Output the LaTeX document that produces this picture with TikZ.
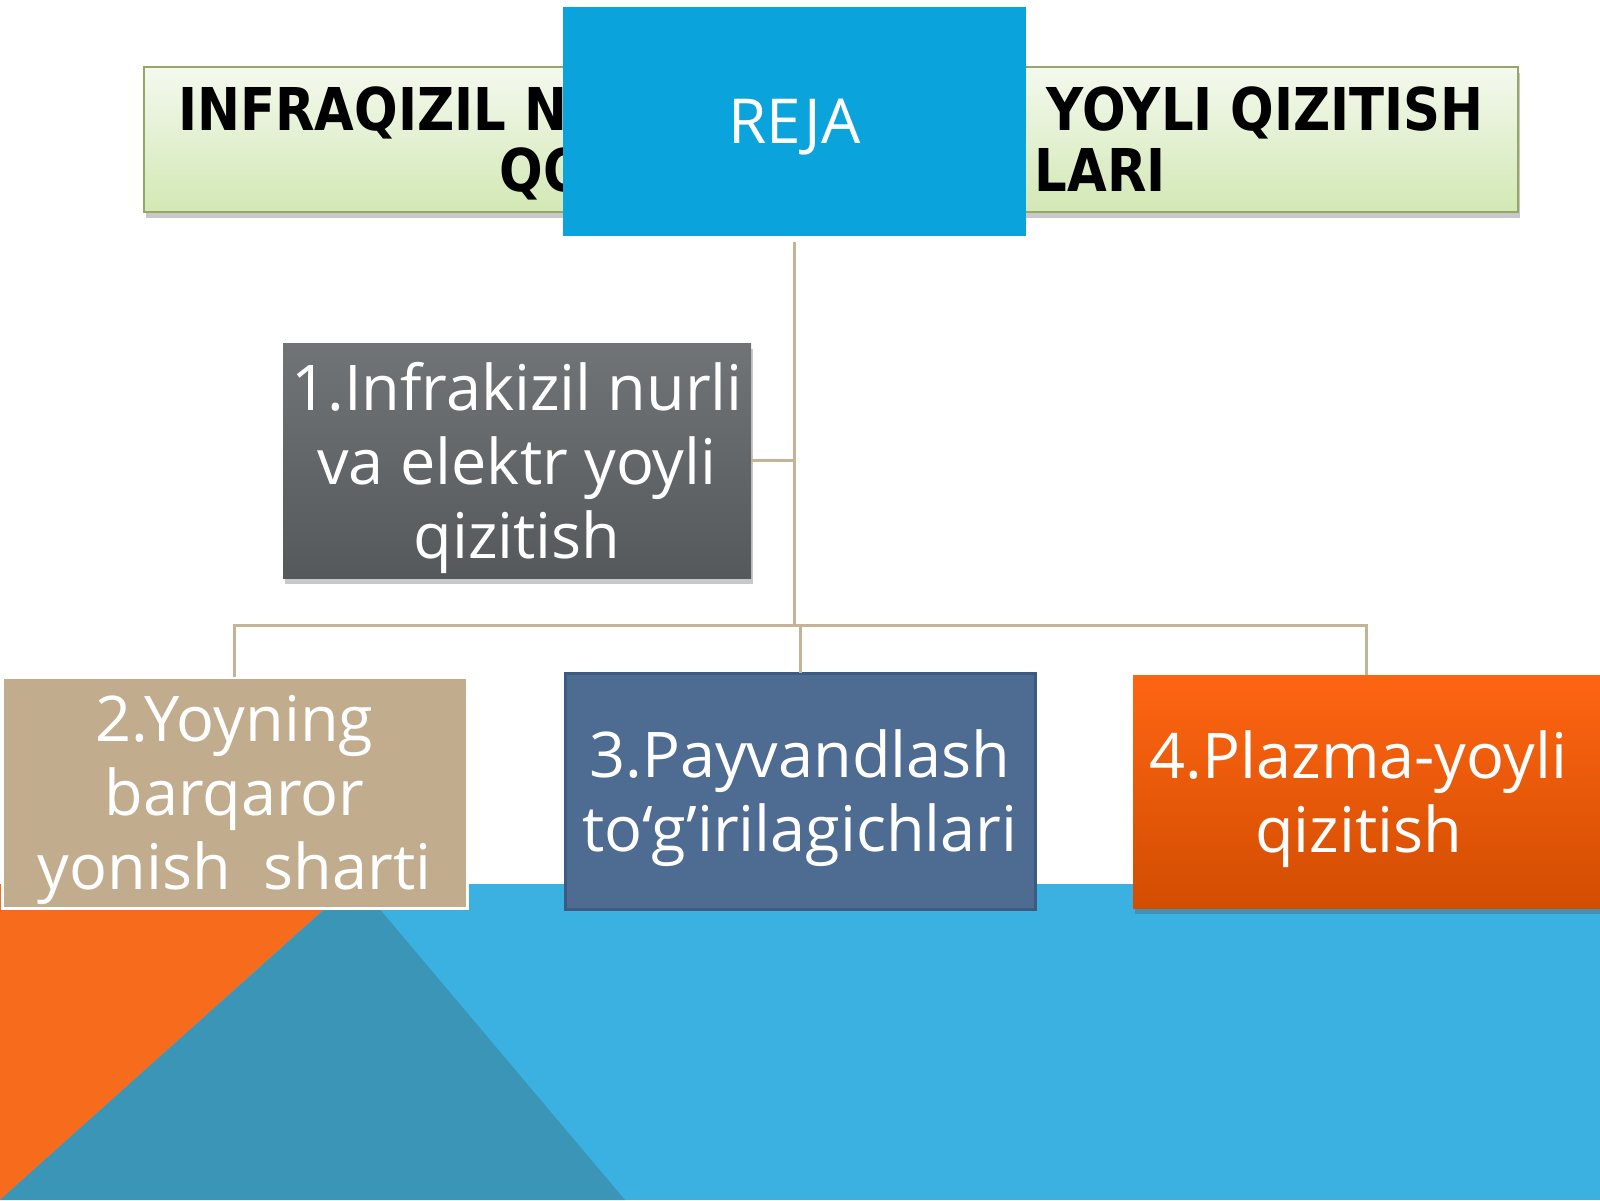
\documentclass[tikz,border=0pt]{standalone}
\usepackage{fontspec}
\setmainfont{Open Sans}
\newfontfamily\titlefont[FakeStretch=0.87]{DejaVu Sans Bold}
\usetikzlibrary{shadows}
\definecolor{rejablue}{HTML}{0BA3DB}
\definecolor{linktan}{HTML}{C4B496}
\definecolor{skyblue}{HTML}{3BB1E1}
\definecolor{tealblue}{HTML}{3A95B7}
\definecolor{flameorange}{HTML}{F76B1C}
\definecolor{sandbox}{HTML}{C1AD8E}
\definecolor{steelbox}{HTML}{4E6B92}
\definecolor{steeledge}{HTML}{3D5A80}
\definecolor{greytop}{HTML}{717477}
\definecolor{greybottom}{HTML}{56595C}
\definecolor{orangetop}{HTML}{FE6512}
\definecolor{orangebottom}{HTML}{D24D02}
\definecolor{limetop}{HTML}{F4F9EE}
\definecolor{limebottom}{HTML}{D3E8B5}
\definecolor{limeedge}{HTML}{94A865}
\begin{document}
\begin{tikzpicture}[x=0.5pt,y=-0.5pt,
  box/.style={rectangle, inner sep=0pt, outer sep=0pt, align=center, text=white,
    text depth=0pt, font=\fontsize{31.5}{37}\selectfont},
  shade/.style={drop shadow={shadow xshift=1pt, shadow yshift=-3pt, opacity=0.3, fill=black!70}},
  link/.style={draw=linktan, line width=1.5pt}]
\useasboundingbox (0,0) rectangle (1600,1200);
\fill [white] (0,0) rectangle (1600,1200);
% background corner
\fill [skyblue] (0,884) rectangle (1600,1200);
\fill [flameorange] (0,884) -- (352,884) -- (0,1200) -- cycle;
\fill [tealblue] (356,881) -- (625,1200) -- (0,1200) -- cycle;
% title (middle part lies under the REJA box)
\node (title) [rectangle, shade, draw=limeedge, line width=1pt,
  top color=limetop, bottom color=limebottom, text depth=0pt,
  minimum width=687pt, minimum height=72.5pt, align=center,
  font=\titlefont\fontsize{29.5}{30.5}\selectfont] at (831,139)
  {INFRAQIZIL NURLI\kern-4pt\ VA ELEKTR\kern4pt\ YOYLI QIZITISH\\
   \kern2pt QO‘LLANISH\kern-5.5pt\ SOHA\kern5.5pt LARI};
\node (reja) [box, fill=rejablue, minimum width=231.5pt, minimum height=114.5pt,
  font=\fontsize{31}{37}\selectfont] at (794.5,121.5) {REJA};
% plan items
\node (b1) [box, shade, top color=greytop, bottom color=greybottom,
  minimum width=234pt, minimum height=117.5pt] at (517,460.5)
  {1.Infrakizil nurli\\va elektr yoyli\\qizitish};
\node (b2) [box, fill=sandbox, draw=white, line width=1.5pt,
  minimum width=232.5pt, minimum height=115.5pt] at (234.5,792.5)
  {2.Yoyning\\barqaror\\yonish\ \ sharti};
\node (b3) [box, fill=steelbox, draw=steeledge, line width=1.5pt,
  minimum width=235pt, minimum height=118pt] at (800,791)
  {3.Payvandlash\\to‘g’irilagichlari};
\node (b4) [box, shade, top color=orangetop, bottom color=orangebottom,
  minimum width=233.5pt, minimum height=116.5pt] at (1366.5,791.5)
  {4.Plazma-yoyli\kern8pt\\qizitish\kern8pt};
% connectors
\coordinate (hub) at (794.5,625);
\draw [link] ([yshift=-3pt]reja.south) -- (hub);
\draw [link] (b1.east) -- (b1.east -| hub);
\draw [link] (b2.north) |- (hub) -| (b4.north);
\draw [link] (b3.north) -- (b3.north |- hub);
\end{tikzpicture}
\end{document}
